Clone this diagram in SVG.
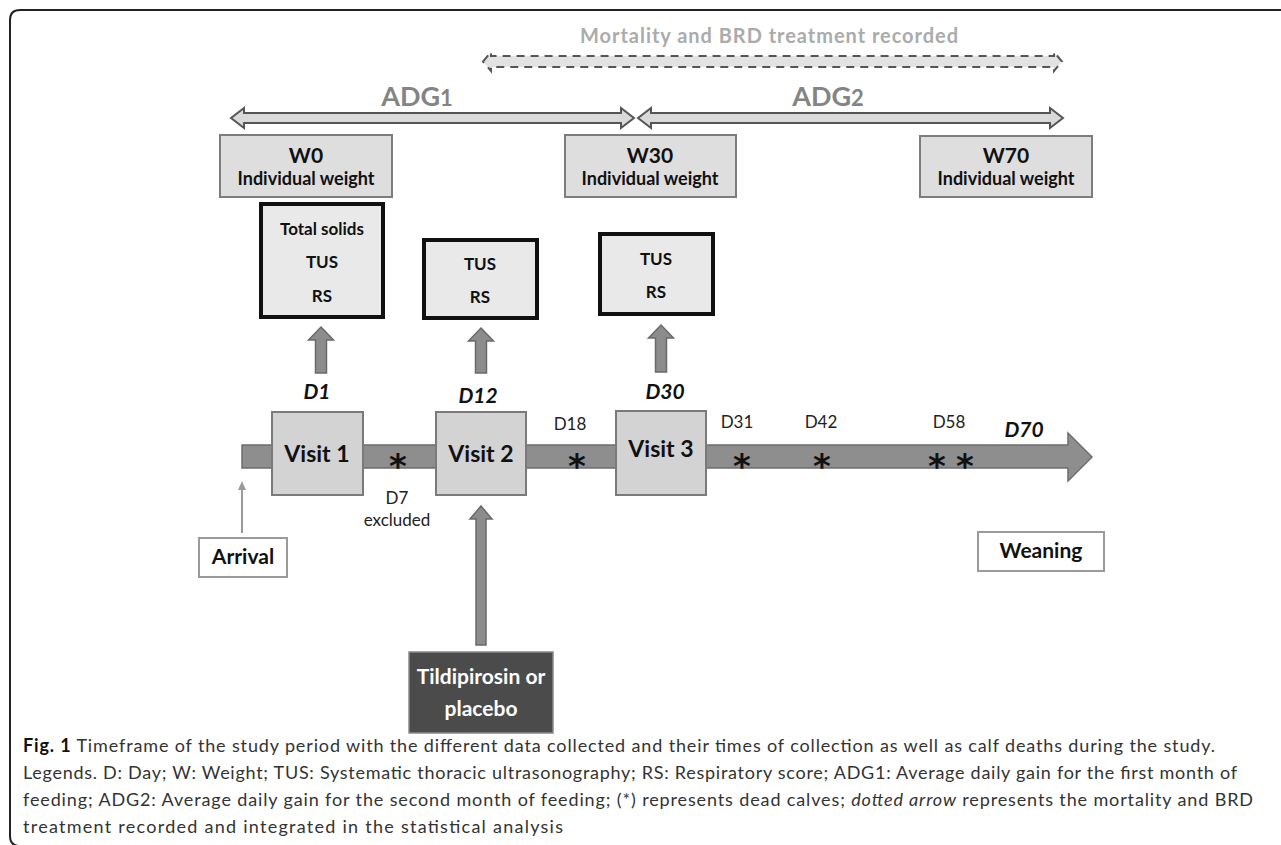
<svg xmlns="http://www.w3.org/2000/svg" width="1281" height="845" viewBox="0 0 1281 845">
<style>
.bg{fill:#fff}
.frame{fill:none;stroke:#222;stroke-width:2}
.wbox{fill:#dedede;stroke:#7d7d7d;stroke-width:2}
.bbox{fill:#e9e9e9;stroke:#111;stroke-width:4}
.vbox{fill:#d3d3d3;stroke:#7a7a7a;stroke-width:2}
.obox{fill:#fff;stroke:#9a9a9a;stroke-width:2}
.dbox{fill:#4b4b4b;stroke:#8a8a8a;stroke-width:1.5}
.bar{fill:#8e8e8e;stroke:#6e6e6e;stroke-width:1.5}
.up{fill:#8c8c8c;stroke:#6a6a6a;stroke-width:1.5}
.adg{fill:#d9d9d9;stroke:#555;stroke-width:2;stroke-linejoin:miter}
.dash{fill:#e2e2e2;stroke:#555;stroke-width:2;stroke-dasharray:8 6}
.t{font-family:Lato,"Open Sans","Liberation Sans",sans-serif;font-weight:700;fill:#111;text-anchor:middle}
.tw{font-size:21px}
.ti{font-size:18px}
.tb{font-size:17px}
.tv{font-size:23px}
.td{font-size:21px;font-style:italic}
.ts{font-family:Lato,"Open Sans","Liberation Sans",sans-serif;font-size:17px;fill:#222;text-anchor:middle}
.tg{font-family:Lato,"Open Sans","Liberation Sans",sans-serif;font-weight:700;fill:#848484;text-anchor:middle;font-size:27px}
.tm{font-family:Lato,"Open Sans","Liberation Sans",sans-serif;font-weight:700;fill:#ababab;text-anchor:middle;font-size:20px}
.star{font-family:"DejaVu Sans",sans-serif;font-weight:700;font-size:34px;fill:#111;text-anchor:middle}
.cap{font-family:Lato,"Open Sans","Liberation Sans",sans-serif;font-size:18px;fill:#333}
</style>
<rect class="bg" x="0" y="0" width="1281" height="845"/>
<path class="frame" d="M1281,10 H20 Q10,10 10,20 V836 Q10,845 18,846"/>

<g id="connectors">
  <polygon id="mortality-arrow" class="dash" points="483,61.5 491,52 491,56 1054,56 1054,52 1062,61.5 1054,71 1054,67 491,67 491,71"/>
  <polygon id="adg1-arrow" class="adg" points="231,118 244,108 244,113 621,113 621,108 634,118 621,128 621,123 244,123 244,128"/>
  <polygon id="adg2-arrow" class="adg" points="638,118 651,108 651,113 1050,113 1050,108 1063,118 1050,128 1050,123 651,123 651,128"/>
  <polygon id="up1" class="up" points="321,327 333.5,340 326.5,340 326.5,373 315.5,373 315.5,340 308.5,340"/>
  <polygon id="up2" class="up" points="481,328 493.5,341 486.5,341 486.5,373 475.5,373 475.5,341 468.5,341"/>
  <polygon id="up3" class="up" points="661,325 673.5,338 666.5,338 666.5,372 655.5,372 655.5,338 648.5,338"/>
  <polygon id="up-treatment" class="up" points="481,506 492,519 486,519 486,645 476,645 476,519 470,519"/>
  <g id="arrival-arrow">
    <line x1="242" y1="533" x2="242" y2="488" stroke="#9a9a9a" stroke-width="2"/>
    <polygon points="242,481 246,490 238,490" fill="#9a9a9a"/>
  </g>
</g>

<g id="labels-top">
  <text class="tm" x="769" y="43" textLength="378">Mortality and BRD treatment recorded</text>
  <text class="tg" x="417" y="106">ADG<tspan font-size="22px">1</tspan></text>
  <text class="tg" x="828" y="106">ADG<tspan font-size="22px">2</tspan></text>
</g>

<g id="w0">
  <rect class="wbox" x="220" y="135" width="172" height="62"/>
  <text class="t tw" x="306" y="163">W0</text>
  <text class="t ti" x="306" y="185">Individual weight</text>
</g>
<g id="w30">
  <rect class="wbox" x="565" y="135" width="171" height="62"/>
  <text class="t tw" x="650" y="163">W30</text>
  <text class="t ti" x="650" y="185">Individual weight</text>
</g>
<g id="w70">
  <rect class="wbox" x="920" y="136" width="172" height="61"/>
  <text class="t tw" x="1006" y="163">W70</text>
  <text class="t ti" x="1006" y="185">Individual weight</text>
</g>

<g id="data1">
  <rect class="bbox" x="261" y="204" width="122" height="113"/>
  <text class="t tb" x="322" y="235">Total solids</text>
  <text class="t tb" x="322" y="268">TUS</text>
  <text class="t tb" x="322" y="302">RS</text>
</g>
<g id="data2">
  <rect class="bbox" x="424" y="240" width="113" height="78"/>
  <text class="t tb" x="480" y="270">TUS</text>
  <text class="t tb" x="480" y="303">RS</text>
</g>
<g id="data3">
  <rect class="bbox" x="600" y="234" width="113" height="80"/>
  <text class="t tb" x="656" y="265">TUS</text>
  <text class="t tb" x="656" y="298">RS</text>
</g>

<g id="timeline">
  <polygon class="bar" points="242,445 1068,445 1068,433 1092,457 1068,481 1068,468 242,468"/>
</g>

<g id="day-labels">
  <text class="t td" x="317" y="399">D1</text>
  <text class="t td" x="478" y="403">D12</text>
  <text class="t td" x="665" y="399">D30</text>
  <text class="t td" x="1024" y="437">D70</text>
  <text class="ts" x="570" y="430">D18</text>
  <text class="ts" x="737" y="428">D31</text>
  <text class="ts" x="821" y="428">D42</text>
  <text class="ts" x="949" y="428">D58</text>
  <text class="ts" x="397" y="504">D7</text>
  <text class="ts" x="397" y="526">excluded</text>
</g>

<g id="visit1">
  <rect class="vbox" x="272" y="412" width="91" height="83"/>
  <text class="t tv" x="317" y="462">Visit 1</text>
</g>
<g id="visit2">
  <rect class="vbox" x="436" y="412" width="90" height="83"/>
  <text class="t tv" x="481" y="462">Visit 2</text>
</g>
<g id="visit3">
  <rect class="vbox" x="616" y="411" width="90" height="84"/>
  <text class="t tv" x="661" y="457">Visit 3</text>
</g>

<g id="deaths">
  <text class="star" x="398" y="478">*</text>
  <text class="star" x="577" y="478">*</text>
  <text class="star" x="742" y="478">*</text>
  <text class="star" x="822" y="478">*</text>
  <text class="star" x="937" y="478">*</text>
  <text class="star" x="965" y="478">*</text>
</g>

<g id="arrival">
  <rect class="obox" x="199" y="538" width="88" height="39"/>
  <text class="t tw" x="243" y="564">Arrival</text>
</g>
<g id="weaning">
  <rect class="obox" x="978" y="532" width="126" height="39"/>
  <text class="t tw" x="1041" y="558">Weaning</text>
</g>
<g id="treatment">
  <rect class="dbox" x="409" y="652" width="144" height="81"/>
  <text class="t tw" x="481" y="684" style="fill:#fff">Tildipirosin or</text>
  <text class="t tw" x="481" y="716" style="fill:#fff">placebo</text>
</g>

<g id="caption">
  <text class="cap" x="23" y="752" textLength="1192"><tspan font-weight="700" fill="#111">Fig. 1</tspan> Timeframe of the study period with the different data collected and their times of collection as well as calf deaths during the study.</text>
  <text class="cap" x="23" y="779" textLength="1214">Legends. D: Day; W: Weight; TUS: Systematic thoracic ultrasonography; RS: Respiratory score; ADG1: Average daily gain for the first month of</text>
  <text class="cap" x="23" y="806" textLength="1230">feeding; ADG2: Average daily gain for the second month of feeding; (*) represents dead calves; <tspan font-style="italic">dotted arrow</tspan> represents the mortality and BRD</text>
  <text class="cap" x="23" y="833" textLength="540">treatment recorded and integrated in the statistical analysis</text>
</g>
</svg>
